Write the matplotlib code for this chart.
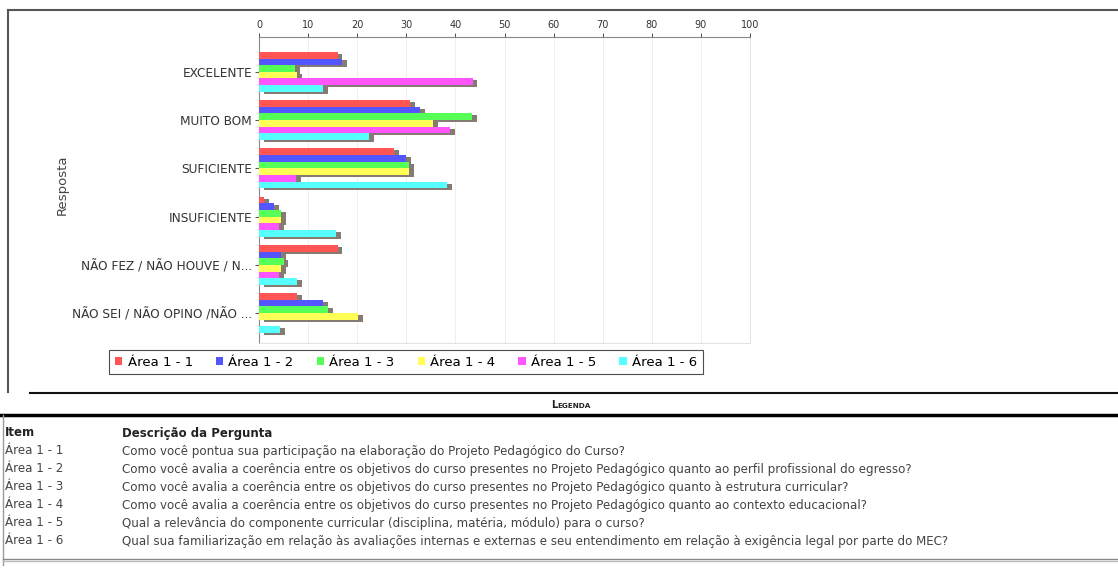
import matplotlib
matplotlib.use("Agg")
import matplotlib.pyplot as plt
from matplotlib.lines import Line2D
import numpy as np

W, H = 1118, 572

categories = ["EXCELENTE", "MUITO BOM", "SUFICIENTE", "INSUFICIENTE",
              "NÃO FEZ / NÃO HOUVE / N...", "NÃO SEI / NÃO OPINO /NÃO ..."]
series_names = ["Área 1 - 1", "Área 1 - 2", "Área 1 - 3", "Área 1 - 4", "Área 1 - 5", "Área 1 - 6"]
area_1_1 = [16.0, 30.8, 27.5, 1.0, 16.0, 7.7]
area_1_2 = [17.0, 32.8, 30.0, 3.0, 4.5, 13.0]
area_1_3 = [7.3, 43.4, 30.5, 4.5, 5.0, 14.0]
area_1_4 = [7.7, 35.5, 30.5, 4.5, 4.5, 20.2]
area_1_5 = [43.5, 39.0, 7.5, 4.0, 4.0, 0.0]
area_1_6 = [13.0, 22.5, 38.3, 15.7, 7.7, 4.3]
series_values = [area_1_1, area_1_2, area_1_3, area_1_4, area_1_5, area_1_6]
colors = ["#ff5555", "#5555ff", "#55ff55", "#ffff55", "#ff55ff", "#55ffff"]
x_ticks = list(range(0, 101, 10))

questions = [
    "Como você pontua sua participação na elaboração do Projeto Pedagógico do Curso?",
    "Como você avalia a coerência entre os objetivos do curso presentes no Projeto Pedagógico quanto ao perfil profissional do egresso?",
    "Como você avalia a coerência entre os objetivos do curso presentes no Projeto Pedagógico quanto à estrutura curricular?",
    "Como você avalia a coerência entre os objetivos do curso presentes no Projeto Pedagógico quanto ao contexto educacional?",
    "Qual a relevância do componente curricular (disciplina, matéria, módulo) para o curso?",
    "Qual sua familiarização em relação às avaliações internas e externas e seu entendimento em relação à exigência legal por parte do MEC?",
]


def fx(x):
    return x / W


def fy(y):
    return 1 - y / H


def hline(fig, y, x0, x1, color, lw):
    fig.add_artist(Line2D([fx(x0), fx(x1)], [fy(y), fy(y)], color=color, linewidth=lw,
                          transform=fig.transFigure))


def vline(fig, x, y0, y1, color, lw):
    fig.add_artist(Line2D([fx(x), fx(x)], [fy(y0), fy(y1)], color=color, linewidth=lw,
                          transform=fig.transFigure))


fig = plt.figure(figsize=(W / 100, H / 100), dpi=100)
fig.patch.set_facecolor("white")

# plot area
left, right, top, bottom = 259, 750, 37, 343
ax = fig.add_axes([fx(left), fy(bottom), fx(right - left), (bottom - top) / H])

n_series = len(series_values)
bar_h = 0.138
y_pos = np.arange(len(categories))
px_per_unit_y = 48.5
shadow_dx = 1.0
shadow_dy = 2.0 / px_per_unit_y
for j, vals in enumerate(series_values):
    yy = y_pos + (j - (n_series - 1) / 2) * bar_h
    ax.barh(yy + shadow_dy, vals, height=bar_h, left=shadow_dx, color="#857b72",
            linewidth=0, zorder=2 + 2 * j)
    ax.barh(yy, vals, height=bar_h, color=colors[j], linewidth=0, zorder=3 + 2 * j,
            label=series_names[j])

ax.set_xlim(0, 100)
ax.set_ylim(5 + 30 / px_per_unit_y, -35 / px_per_unit_y)
ax.set_xticks(x_ticks)
ax.xaxis.tick_top()
ax.tick_params(axis="x", labelsize=7, colors="#333333", length=3, width=0.6, pad=2)
ax.set_yticks(y_pos)
ax.set_yticklabels(categories)
ax.tick_params(axis="y", labelsize=8.7, colors="#333333", length=3, width=0.6, pad=2)
ax.grid(axis="x", color="#ebebeb", linewidth=0.6, zorder=0)
ax.set_axisbelow(True)
for side in ("right", "bottom"):
    ax.spines[side].set_color("#dddddd")
    ax.spines[side].set_linewidth(0.6)
for side in ("left", "top"):
    ax.spines[side].set_color("#888888")
    ax.spines[side].set_linewidth(0.8)

fig.text(fx(62), fy(185), "Resposta", rotation=90, ha="center", va="center",
         fontsize=9.5, color="#444444")

leg = fig.legend(loc="center", bbox_to_anchor=(fx(406), fy(362)), ncol=6, fontsize=9.5,
                 handlelength=0.55, handleheight=0.55, handletextpad=0.4,
                 columnspacing=1.75, borderpad=0.45, fancybox=False, frameon=True)
leg.get_frame().set_edgecolor("#222222")
leg.get_frame().set_linewidth(0.8)

# panel frame
hline(fig, 10, 8, W, "#555555", 1.5)
vline(fig, 8, 10, 392, "#555555", 1.5)

# legend table
hline(fig, 393, 30, W, "#111111", 1.5)
fig.text(fx(557), fy(405), "L", ha="right", va="center", fontsize=7, fontweight="bold",
         color="#222222")
fig.text(fx(557), fy(406), "EGENDA", ha="left", va="center", fontsize=5.2,
         fontweight="bold", color="#222222")
hline(fig, 415, 0, W, "#000000", 2.5)
vline(fig, 3, 415, 565, "#999999", 1.0)

fig.text(fx(5), fy(433), "Item", ha="left", va="center", fontsize=8.5,
         fontweight="bold", color="#222222")
fig.text(fx(122), fy(433), "Descrição da Pergunta", ha="left", va="center", fontsize=8.5,
         fontweight="bold", color="#222222")
for i, (name, q) in enumerate(zip(series_names, questions)):
    y = 451 + 18 * i
    fig.text(fx(5), fy(y), name, ha="left", va="center", fontsize=8.6, color="#444444")
    fig.text(fx(122), fy(y), q, ha="left", va="center", fontsize=8.6, color="#444444")

hline(fig, 559, 3, W, "#888888", 1.0)
hline(fig, 561, 3, W, "#bbbbbb", 1.0)

fig.savefig("out.png", dpi=100)
